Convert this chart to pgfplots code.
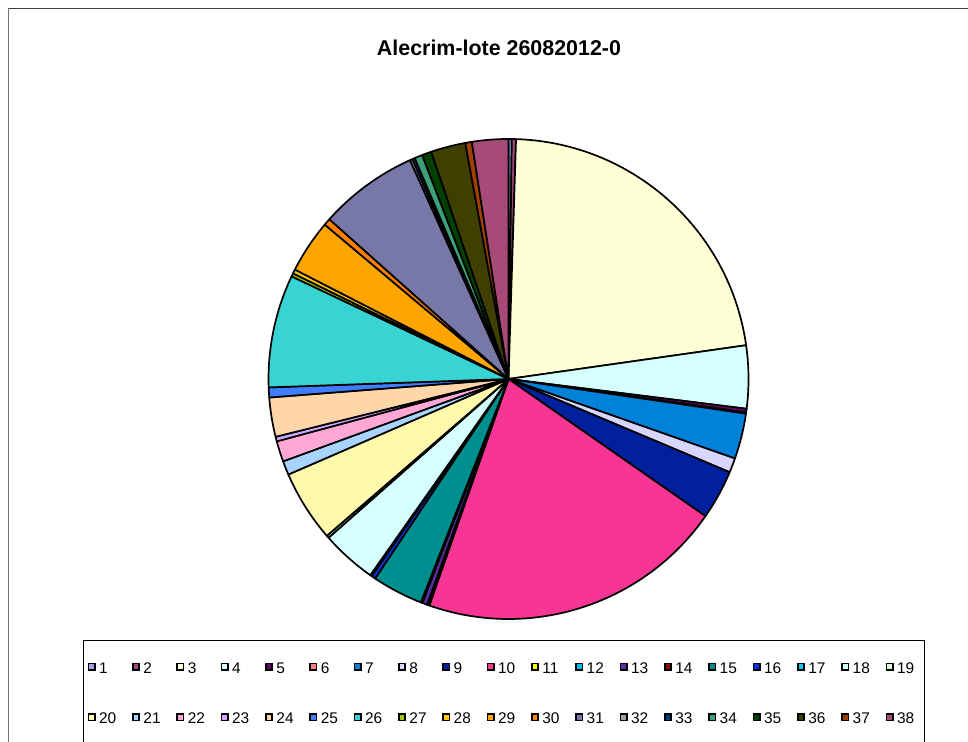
\documentclass[border=0pt]{standalone}
\usepackage{pgfplots}
\pgfplotsset{compat=1.18}
\usepackage{pgfplotstable}
\usepackage{fontspec}
\setmainfont{Liberation Sans}

% slice shares (percent), in Excel order: clockwise from 12 o'clock
\pgfplotstableread{
id val
1 0.22
2 0.28
3 22.22
4 4.22
5 0.25
6 0.08
7 3.06
8 0.97
9 3.33
10 20.64
11 0.08
12 0.08
13 0.33
14 0.11
15 3.42
16 0.28
17 0.11
18 3.72
19 0.17
20 4.81
21 0.94
22 1.39
23 0.31
24 2.64
25 0.67
26 7.58
27 0.22
28 0.28
29 3.58
30 0.47
31 6.67
32 0.17
33 0.17
34 0.53
35 0.64
36 2.33
37 0.44
38 2.44
}\piedata

\definecolor{s1}{HTML}{A0A0F0}
\definecolor{s2}{HTML}{A04A78}
\definecolor{s3}{HTML}{FFFFD6}
\definecolor{s4}{HTML}{D6FFFF}
\definecolor{s5}{HTML}{660066}
\definecolor{s6}{HTML}{FF8080}
\definecolor{s7}{HTML}{0082D8}
\definecolor{s8}{HTML}{D6D6FF}
\definecolor{s9}{HTML}{00209E}
\definecolor{s10}{HTML}{F73594}
\definecolor{s11}{HTML}{FFFF00}
\definecolor{s12}{HTML}{00BAF0}
\definecolor{s13}{HTML}{5A2CA0}
\definecolor{s14}{HTML}{901000}
\definecolor{s15}{HTML}{008F8F}
\definecolor{s16}{HTML}{0033E0}
\definecolor{s17}{HTML}{00CCFF}
\definecolor{s18}{HTML}{D6FFFF}
\definecolor{s19}{HTML}{D6FFD6}
\definecolor{s20}{HTML}{FFF9AC}
\definecolor{s21}{HTML}{A8D4FF}
\definecolor{s22}{HTML}{FFA8D6}
\definecolor{s23}{HTML}{D0A8FF}
\definecolor{s24}{HTML}{FFD6A8}
\definecolor{s25}{HTML}{3F7FFF}
\definecolor{s26}{HTML}{38D4D4}
\definecolor{s27}{HTML}{A0C800}
\definecolor{s28}{HTML}{FFC800}
\definecolor{s29}{HTML}{FFA500}
\definecolor{s30}{HTML}{FF8000}
\definecolor{s31}{HTML}{7878A8}
\definecolor{s32}{HTML}{A0A0A0}
\definecolor{s33}{HTML}{00407F}
\definecolor{s34}{HTML}{3CA078}
\definecolor{s35}{HTML}{004000}
\definecolor{s36}{HTML}{3F3F00}
\definecolor{s37}{HTML}{A04000}
\definecolor{s38}{HTML}{A84A78}

\begin{document}
\begin{tikzpicture}[x=1bp,y=1bp]
\path[use as bounding box] (0,0) rectangle (968,742);

% total and cumulative angles
\def\total{0}
\pgfplotsforeachungrouped \r in {0,...,37}{%
  \pgfplotstablegetelem{\r}{val}\of\piedata
  \pgfmathsetmacro\total{\total+\pgfplotsretval}%
}
\pgfmathsetmacro\scl{360/\total}
\def\cum{0}
\pgfplotsforeachungrouped \r in {1,...,38}{%
  \pgfmathtruncatemacro\row{\r-1}%
  \pgfplotstablegetelem{\row}{val}\of\piedata
  \pgfmathsetmacro\a{90-\scl*\cum}%
  \pgfmathsetmacro\cum{\cum+\pgfplotsretval}%
  \pgfmathsetmacro\b{90-\scl*\cum}%
  \expandafter\xdef\csname pa\r\endcsname{\a}%
  \expandafter\xdef\csname pb\r\endcsname{\b}%
}

\begin{axis}[
  at={(0,0)}, anchor=south west,
  scale only axis, width=968bp, height=742bp,
  xmin=0, xmax=968, ymin=0, ymax=742,
  hide axis, clip=false,
]
\pgfplotsinvokeforeach{1,...,38}{%
  \filldraw[fill=s#1, draw=black, line width=1.7bp, line join=round]
    (axis cs:508.5,363) -- ([shift={(\csname pa#1\endcsname:240bp)}]axis cs:508.5,363)
    arc[start angle=\csname pa#1\endcsname, end angle=\csname pb#1\endcsname, radius=240bp]
    -- cycle;
}
\end{axis}

% chart frame (top and left edges)
\draw[color=black!75, line width=1.3bp] (8.5,733.5) -- (968,733.5);
\draw[color=black!55, line width=1.8bp] (8.5,733.5) -- (8.5,0);

% title
\node[font=\fontsize{21.5}{25}\selectfont\bfseries, anchor=base] at (499,686) {Alecrim-lote 26082012-0};

% legend box
\draw[black, line width=1bp] (83,-5) -- (83,101.5) -- (924,101.5) -- (924,-5);

% legend entries
\foreach \k in {1,...,19}{
  \pgfmathsetmacro\xx{91.7+44.33*(\k-1)}
  \pgfmathtruncatemacro\kk{\k+19}
  \filldraw[fill=s\k, draw=black, line width=1.6bp] (\xx-3.2,75.3-3.2) rectangle (\xx+3.2,75.3+3.2);
  \node[font=\fontsize{15.5}{18}\selectfont, anchor=base west, inner sep=0pt] at (\xx+7.2,68.7) {\k};
  \filldraw[fill=s\kk, draw=black, line width=1.6bp] (\xx-3.2,24.5-3.2) rectangle (\xx+3.2,24.5+3.2);
  \node[font=\fontsize{15.5}{18}\selectfont, anchor=base west, inner sep=0pt] at (\xx+7.2,18) {\kk};
}
\end{tikzpicture}
\end{document}
